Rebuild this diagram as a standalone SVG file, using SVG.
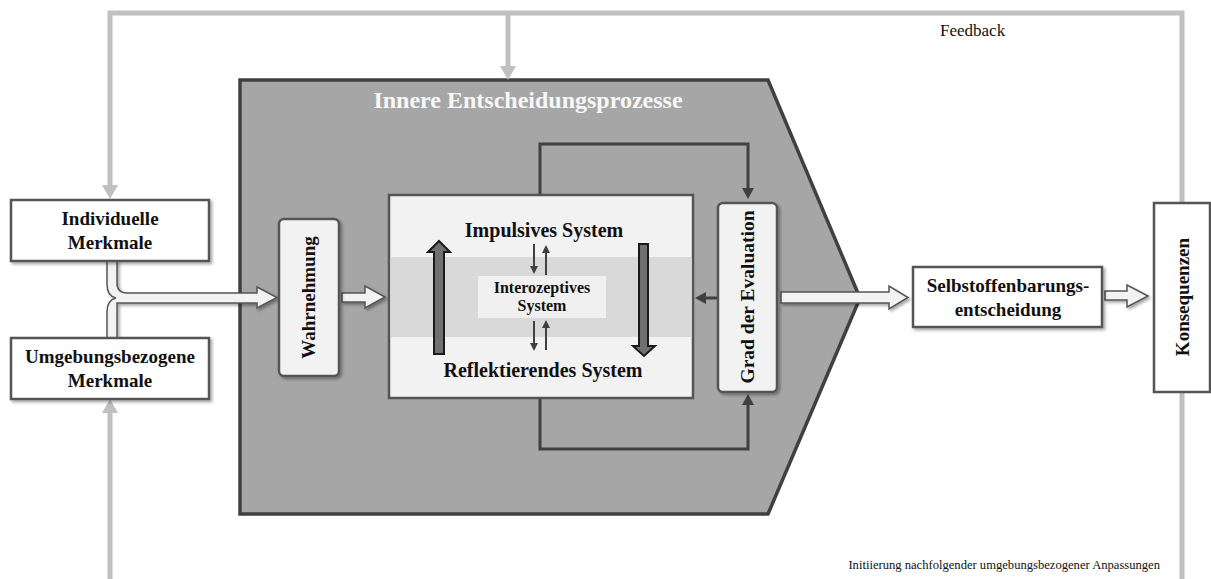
<svg xmlns="http://www.w3.org/2000/svg" width="1211" height="579" viewBox="0 0 1211 579">
  <defs>
    <style>
      .bold { font-family: "Liberation Serif", "Times New Roman", serif; font-weight: bold; fill: #111; }
      .plain { font-family: "Liberation Serif", "Times New Roman", serif; fill: #111; }
      .box { fill: #ffffff; stroke: #555; stroke-width: 2.5; }
      .inner { fill: #f2f2f2; stroke: #555; stroke-width: 2.5; }
      .fb { fill: none; stroke: #c0c0c0; stroke-width: 5; }
      .loop { fill: none; stroke: #404040; stroke-width: 3; }
      .thin { fill: none; stroke: #404040; stroke-width: 2; }
      .block { fill: #f2f2f2; stroke: #555; stroke-width: 1.5; }
      .big { fill: #707070; stroke: #1a1a1a; stroke-width: 2; }
    </style>
    <filter id="shadow" x="-20%" y="-20%" width="140%" height="140%">
      <feDropShadow dx="2" dy="2" stdDeviation="1.5" flood-color="#000" flood-opacity="0.35"/>
    </filter>
    <marker id="fbHead" markerUnits="userSpaceOnUse" viewBox="0 0 14 16" refX="0" refY="8" markerWidth="14" markerHeight="16" orient="auto">
      <path d="M0,0 L14,8 L0,16 Z" fill="#c0c0c0"/>
    </marker>
    <marker id="darkHead" markerUnits="userSpaceOnUse" viewBox="0 0 11 12" refX="0" refY="6" markerWidth="11" markerHeight="12" orient="auto">
      <path d="M0,0 L11,6 L0,12 Z" fill="#404040"/>
    </marker>
    <marker id="smallHead" markerUnits="userSpaceOnUse" viewBox="0 0 8 8" refX="0" refY="4" markerWidth="8" markerHeight="8" orient="auto">
      <path d="M0,0 L8,4 L0,8 Z" fill="#404040"/>
    </marker>
  </defs>

  <!-- Outer process shape -->
  <g id="innere-entscheidungsprozesse">
    <path d="M240,80 H768 L860,298 L768,514 H240 Z" fill="#a6a6a6" stroke="#404040" stroke-width="3.5"/>
    <text x="528" y="108" class="bold" font-size="24" text-anchor="middle" style="fill:#f7f7f7">Innere Entscheidungsprozesse</text>
  </g>

  <!-- Connectors -->
  <g id="connectors">
    <!-- feedback loop -->
    <path class="fb" d="M1182,203 V13 H110 V185" marker-end="url(#fbHead)"/>
    <path class="fb" d="M508,13 V66" marker-end="url(#fbHead)"/>
    <path class="fb" d="M1182,392 V579"/>
    <path class="fb" d="M110,579 V413" marker-end="url(#fbHead)"/>

    <!-- inner evaluation loops -->
    <path class="loop" d="M540,195 V144 H748 V188" marker-end="url(#darkHead)"/>
    <path class="loop" d="M540,398 V449 H748 V405" marker-end="url(#darkHead)"/>
    <path class="loop" d="M717,298 H706" marker-end="url(#darkHead)"/>

    <!-- merged input pipe -->
    <path class="block" filter="url(#shadow)" d="M107,261 V284 Q107,296 116,298 Q107,300 107,312 V338 H117 V303 H257 V308 L277,297.5 L257,287 V293 H127 Q117,293 117,283 V261 Z"/>

    <!-- block arrows -->
    <path class="block" filter="url(#shadow)" d="M342,293 H365 V286 L385,297 L365,308 V302 H342 Z"/>
    <path class="block" filter="url(#shadow)" d="M781,292 H889 V286 L908,297.5 L889,309 V303 H781 Z"/>
    <path class="block" filter="url(#shadow)" d="M1105,291 H1127 V285 L1148,296 L1127,307 V300 H1105 Z"/>
  </g>

  <g id="individuelle-merkmale">
    <rect x="11" y="200" width="198" height="61" class="box" filter="url(#shadow)"/>
    <text x="110" y="225" class="bold" font-size="19" text-anchor="middle">Individuelle</text>
    <text x="110" y="249" class="bold" font-size="19" text-anchor="middle">Merkmale</text>
  </g>

  <g id="umgebungsbezogene-merkmale">
    <rect x="11" y="338" width="198" height="61" class="box" filter="url(#shadow)"/>
    <text x="110" y="363" class="bold" font-size="19" text-anchor="middle">Umgebungsbezogene</text>
    <text x="110" y="387" class="bold" font-size="19" text-anchor="middle">Merkmale</text>
  </g>

  <g id="wahrnehmung">
    <rect x="279" y="219" width="60" height="157" rx="5" class="inner" filter="url(#shadow)"/>
    <text class="bold" font-size="19" text-anchor="middle" transform="translate(315,297.5) rotate(-90)">Wahrnehmung</text>
  </g>

  <g id="systeme">
    <rect x="389" y="195" width="304" height="203" class="inner" stroke-width="3"/>
    <rect x="390.5" y="257" width="301" height="80" fill="#d9d9d9"/>
    <text x="544" y="237" class="bold" font-size="20" text-anchor="middle">Impulsives System</text>
    <text x="543" y="377" class="bold" font-size="20" text-anchor="middle">Reflektierendes System</text>
    <!-- process direction arrows -->
    <path class="big" d="M434,354 V252 H428 L439,241 L450,252 H444 V354 Z"/>
    <path class="big" d="M639,244 V346 H633 L644,356 L655,346 H648 V244 Z"/>
    <!-- exchange with the interoceptive system -->
    <path class="thin" d="M534,244 V266" marker-end="url(#smallHead)"/>
    <path class="thin" d="M546,275 V253" marker-end="url(#smallHead)"/>
    <path class="thin" d="M534,321 V343" marker-end="url(#smallHead)"/>
    <path class="thin" d="M546,350 V328" marker-end="url(#smallHead)"/>
  </g>

  <g id="interozeptives-system">
    <rect x="478" y="276" width="128" height="42" fill="#f0f0f0"/>
    <text x="542" y="293" class="bold" font-size="16" text-anchor="middle">Interozeptives</text>
    <text x="542" y="311" class="bold" font-size="16" text-anchor="middle">System</text>
  </g>

  <g id="grad-der-evaluation">
    <rect x="718" y="203" width="59" height="189" rx="5" class="inner" filter="url(#shadow)"/>
    <text class="bold" font-size="19.5" text-anchor="middle" transform="translate(754,297) rotate(-90)">Grad der Evaluation</text>
  </g>

  <g id="selbstoffenbarungsentscheidung">
    <rect x="913" y="267" width="189" height="60" class="box" filter="url(#shadow)"/>
    <text x="1008" y="292" class="bold" font-size="19" text-anchor="middle">Selbstoffenbarungs-</text>
    <text x="1008" y="316" class="bold" font-size="19" text-anchor="middle">entscheidung</text>
  </g>

  <g id="konsequenzen">
    <rect x="1154" y="203" width="56" height="189" class="box"/>
    <text class="bold" font-size="19" text-anchor="middle" transform="translate(1189,297) rotate(-90)">Konsequenzen</text>
  </g>

  <g id="labels">
    <text x="940" y="36" class="plain" font-size="17">Feedback</text>
    <text x="1160" y="569" class="plain" font-size="12.6" text-anchor="end">Initiierung nachfolgender umgebungsbezogener Anpassungen</text>
  </g>
</svg>
